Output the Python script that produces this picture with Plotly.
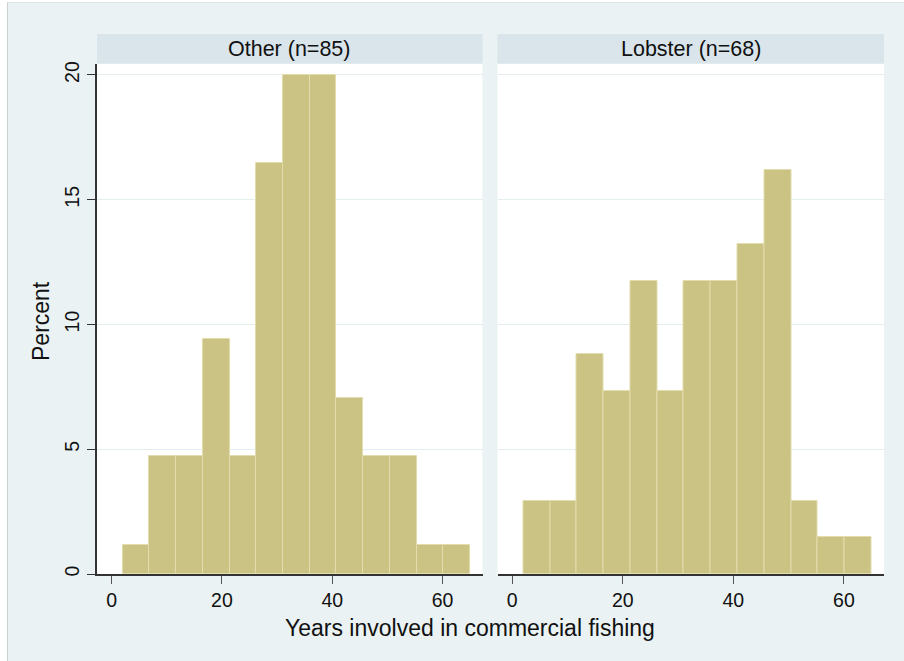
import numpy as np
import plotly.graph_objects as go

# ---- data ----
bin_start = 2.0
bin_end = 65.0
n_bins = 13
panel_titles = ["Other (n=85)", "Lobster (n=68)"]
other_pct = [1.18, 4.71, 4.71, 9.41, 4.71, 16.47, 20.0, 20.0, 7.06, 4.71, 4.71, 1.18, 1.18]
lobster_pct = [2.94, 2.94, 8.82, 7.35, 11.76, 7.35, 11.76, 11.76, 13.24, 16.18, 2.94, 1.47, 1.47]
x_ticks = [0, 20, 40, 60]
y_ticks = [0, 5, 10, 15, 20]
x_title = "Years involved in commercial fishing"
y_title = "Percent"

edges = np.linspace(bin_start, bin_end, n_bins + 1)
centers = (edges[:-1] + edges[1:]) / 2
width = edges[1] - edges[0]

# ---- styling ----
BG = "#eaf2f3"
STRIP = "#d9e5eb"
BAR = "#cbc383"
BAR_LINE = "#e2dcae"
GRID = "#e4edf0"
AXIS = "#333333"
FONT = "Liberation Sans, Arial, sans-serif"

W, H = 904, 661
L, R, T, B = 97, 20, 64, 87
PW, PH = W - L - R, H - T - B

def px_x(px):
    return (px - L) / PW

def px_y(py):
    return (H - B - py) / PH

fig = go.Figure()
fig.add_trace(go.Bar(x=centers, y=other_pct, width=width, marker=dict(color=BAR, line=dict(color=BAR_LINE, width=1)),
                     xaxis="x", yaxis="y", showlegend=False, hoverinfo="x+y"))
fig.add_trace(go.Bar(x=centers, y=lobster_pct, width=width, marker=dict(color=BAR, line=dict(color=BAR_LINE, width=1)),
                     xaxis="x2", yaxis="y2", showlegend=False, hoverinfo="x+y"))

xr = [-2.65, 67.25]
yr = [0, 20.44]
d1 = [0, px_x(482.5)]
d2 = [px_x(497.5), 1]

xcommon = dict(range=xr, tickvals=x_ticks, ticks="outside", ticklen=8, tickwidth=1.2, tickcolor="#555555",
               showline=True, linecolor=AXIS, linewidth=1.5, showgrid=False, zeroline=False,
               tickfont=dict(family=FONT, size=19.5, color="#111111"), fixedrange=True)
fig.update_layout(
    xaxis=dict(domain=d1, anchor="y", **xcommon),
    xaxis2=dict(domain=d2, anchor="y2", **xcommon),
    yaxis=dict(domain=[0, 1], anchor="x", range=yr, tickvals=y_ticks, ticks="outside", ticklen=8, tickwidth=1.2,
               tickcolor=AXIS, showline=True, linecolor=AXIS, linewidth=1.5, showgrid=True, gridcolor=GRID,
               gridwidth=1.2, zeroline=False, tickangle=-90, tickfont=dict(family=FONT, size=19.5, color="#111111")),
    yaxis2=dict(domain=[0, 1], anchor="x2", range=yr, tickvals=y_ticks, showticklabels=False, ticks="",
                showline=False, showgrid=True, gridcolor=GRID, gridwidth=1.2, zeroline=False),
    plot_bgcolor="white",
    paper_bgcolor=BG,
    width=W, height=H,
    margin=dict(l=L, r=R, t=T, b=B),
    bargap=0,
    font=dict(family=FONT, color="#111111"),
)

shapes = []
for d in (d1, d2):
    shapes.append(dict(type="rect", xref="paper", yref="paper", x0=d[0], x1=d[1], y0=0, y1=1,
                       fillcolor="white", line=dict(width=0), layer="below"))
for d in (d1, d2):
    shapes.append(dict(type="rect", xref="paper", yref="paper", x0=d[0], x1=d[1], y0=px_y(63.5), y1=px_y(34),
                       fillcolor=STRIP, line=dict(width=0), layer="below"))
shapes.append(dict(type="rect", xref="paper", yref="paper", x0=d1[1], x1=d2[0], y0=0, y1=1,
                   fillcolor=BG, line=dict(width=0), layer="below"))
shapes.append(dict(type="rect", xref="paper", yref="paper", x0=px_x(0), x1=px_x(7), y0=px_y(H), y1=px_y(0),
                   fillcolor="white", line=dict(width=0), layer="above"))
shapes.append(dict(type="rect", xref="paper", yref="paper", x0=px_x(0), x1=px_x(W), y0=px_y(2), y1=px_y(0),
                   fillcolor="white", line=dict(width=0), layer="above"))
shapes.append(dict(type="line", xref="paper", yref="paper", x0=px_x(7.5), x1=px_x(7.5), y0=px_y(H), y1=px_y(2),
                   line=dict(color="#c9d0d2", width=1), layer="above"))
shapes.append(dict(type="line", xref="paper", yref="paper", x0=px_x(7.5), x1=px_x(W), y0=px_y(2.5), y1=px_y(2.5),
                   line=dict(color="#dde4e6", width=1), layer="above"))
fig.update_layout(shapes=shapes)

annotations = []
for d, t in zip((d1, d2), panel_titles):
    annotations.append(dict(text=t, xref="paper", yref="paper", x=(d[0] + d[1]) / 2, y=px_y(48.5),
                            showarrow=False, xanchor="center", yanchor="middle",
                            font=dict(family=FONT, size=21.5, color="#111111")))
annotations.append(dict(text=x_title, xref="paper", yref="paper", x=px_x(470), y=px_y(628), showarrow=False,
                        xanchor="center", yanchor="middle", font=dict(family=FONT, size=23, color="#111111")))
annotations.append(dict(text=y_title, xref="paper", yref="paper", x=px_x(41), y=px_y(321), showarrow=False,
                        textangle=-90, xanchor="center", yanchor="middle",
                        font=dict(family=FONT, size=23, color="#111111")))
fig.update_layout(annotations=annotations)

fig.write_html("out.html")
